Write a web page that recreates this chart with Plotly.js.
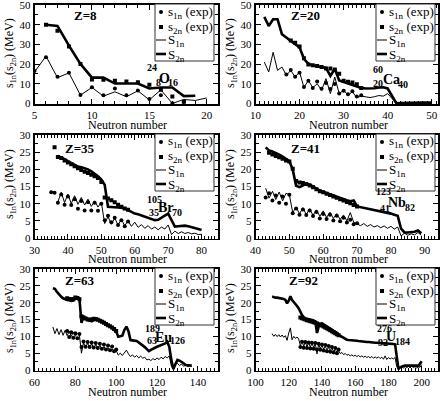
<!DOCTYPE html>
<html><head><meta charset="utf-8">
<script src="https://cdn.plot.ly/plotly-3.0.1.min.js"></script>
<style>html,body{margin:0;padding:0;background:#fff}#chart{width:440px;height:401px}</style>
</head><body><div id="chart"></div>
<script>
// ---------- DATA ----------
// Z=8 (O)
const oModelN1 = [5,6,7,8,9,10,11,12,13,14,15,16,17,18,19,20];
const oModelS1n = [16.0,24.0,13.1,15.5,4.2,8.1,3.7,5.9,3.4,6.4,1.8,6.9,0.0,2.0,1.5,2.8];
const oModelN2 = [6,7,8,9,10,11,12,13,14,15,16,17,18,19];
const oModelS2n = [40.0,39.4,29.4,20.1,13.1,13.1,10.1,10.1,10.1,7.6,8.1,8.1,3.7,3.9];
const oExpN1 = [5,6,7,8,9,10,11,12,13,14,15,16,17,18];
const oExpS1n = [16.5,23.5,13.5,15.6,4.3,8.2,4.1,7.6,4.1,6.6,2.3,4.2,0.1,0.8];
const oExpN2 = [6,7,8,9,10,11,12,13,14,15,16,17,18];
const oExpS2n = [40.0,36.9,29.0,20.0,12.2,12.0,11.5,11.2,10.7,9.5,6.9,3.5,0.9];

// Z=20 (Ca)
const caModelN = [12,13,14,15,16,17,18,19,20,21,22,23,24,25,26,27,28,29,30,31,32,33,34,35,36,37,38,39,40,41,42,43,44,45,46,47,48,49,50];
const caModelS1n = [21.0,16.0,26.0,16.8,18.5,14.3,16.8,13.4,16.0,8.1,11.7,8.0,10.0,6.7,12.6,5.0,13.4,5.0,6.7,4.2,5.9,2.9,3.7,3.4,3.0,3.4,4.0,3.7,5.0,2.5,0.0,0.2,0.3,0.3,0.3,0.3,0.3,0.3,0.3];
const caModelS2n = [44.0,39.4,42.8,42.8,35.2,33.6,31.9,30.5,28.5,22.7,20.1,19.3,18.8,18.5,18.1,14.0,17.6,11.7,10.9,10.0,9.2,8.7,7.9,7.6,7.6,7.7,8.1,8.2,7.6,3.4,0.0,0.2,0.3,0.3,0.4,0.4,0.4,0.4,0.4];
const caExpN1 = [17,18,19,20,21,22,23,24,25,26,27,28,29,30,31,32,33,34];
const caExpS1n = [14.7,17.0,13.5,15.6,8.4,11.5,7.9,11.1,7.4,10.4,7.3,9.9,5.1,6.4,4.6,6.2,3.5,4.1];
const caExpN2 = [18,19,20,21,22,23,24,25,26,27,28,29,30,31,32,33,34];
const caExpS2n = [32.0,30.8,28.9,23.0,19.8,19.4,19.0,18.5,17.8,17.7,17.2,15.1,11.5,11.0,10.6,9.7,7.9];

// Z=35 (Br)
const brModelN = [37,38,39,40,41,42,43,44,45,46,47,48,49,50,51,52,53,54,55,56,57,58,59,60,61,62,63,64,65,66,67,68,69,70,71,72,73,74,75,76,77,78,79,80];
const brModelS1n = [10.5,13.3,10.3,12.8,10.0,12.3,9.8,11.8,9.6,11.3,9.2,10.8,9.0,10.4,4.2,6.2,4.0,5.8,3.8,5.4,3.6,5.0,3.4,4.6,3.1,3.9,2.8,3.6,2.6,3.2,2.4,3.2,2.6,3.8,1.0,2.0,1.3,1.8,1.3,1.6,1.2,1.4,1.0,1.1];
const brModelS2n = [23.9,23.5,23.0,22.4,21.8,21.2,20.8,20.6,20.4,20.0,19.4,18.8,18.0,17.0,15.5,9.1,9.1,9.0,8.9,8.8,8.6,8.1,7.6,7.1,6.9,6.6,6.3,5.9,5.5,5.2,5.3,5.8,6.5,7.1,5.0,3.3,3.4,3.6,3.6,3.4,3.2,2.9,2.6,2.3];
const brExpN1 = [35,36,37,38,39,40,41,42,43,44,45,46,47,48,49,50,51,52,53,54,55,56,57,58];
const brExpS1n = [13.3,13.2,10.3,12.7,9.7,12.1,9.6,11.3,8.5,10.8,8.0,10.4,8.0,10.3,7.9,10.0,5.2,6.5,4.6,5.9,3.8,5.2,3.4,4.8];
const brExpN2 = [36,37,38,39,40,41,42,43,44,45,46,47,48,49,50,51,52,53,54,55,56,57,58];
const brExpS2n = [26.4,23.6,23.3,22.6,22.0,21.5,20.9,20.3,19.8,19.3,18.9,18.4,18.0,17.5,16.3,11.8,11.5,11.0,10.4,9.7,9.1,8.6,8.2];

// Z=41 (Nb)
const nbModelN = [43,44,45,46,47,48,49,50,51,52,53,54,55,56,57,58,59,60,61,62,63,64,65,66,67,68,69,70,71,72,73,74,75,76,77,78,79,80,81,82,83,84,85,86,87,88,89];
const nbModelS1n = [14.5,11.6,13.6,11.2,13.4,10.8,13.0,12.6,7.4,9.0,7.0,8.8,6.8,8.5,6.6,8.2,6.3,7.9,6.0,7.5,5.7,7.1,5.4,6.7,5.0,7.4,4.6,4.2,3.6,4.2,3.4,3.9,3.2,3.6,3.0,3.5,2.8,3.4,2.6,3.2,0.6,1.4,0.8,1.2,0.9,1.6,0.8];
const nbModelS2n = [26.4,25.5,25.2,24.8,24.3,23.7,23.0,22.4,19.9,15.2,14.8,15.3,15.8,15.6,15.0,14.3,13.8,13.5,13.2,12.8,12.4,12.0,11.6,11.3,11.0,10.7,10.9,9.2,9.0,8.9,8.6,8.3,8.2,8.1,7.9,7.6,7.3,7.1,6.8,6.5,2.7,1.6,1.6,1.6,1.8,2.2,1.4];
const nbExpN1 = [43,44,45,46,47,48,49,50,51,52,53,54,55,56,57,58,59,60,61,62,63,64,65,66,67,68,69,70];
const nbExpS1n = [11.8,13.0,10.9,12.4,10.3,12.1,10.0,12.6,7.2,8.6,6.8,8.3,6.7,8.0,6.4,7.6,5.7,7.0,5.5,6.8,5.1,6.5,4.9,5.9,4.5,5.3,4.0,4.3];
const nbExpN2 = [44,45,46,47,48,49,50,51,52,53,54,55,56,57,58,59,60,61,62,63,64,65,66,67,68,69,70];
const nbExpS2n = [24.8,24.3,23.9,23.5,23.1,22.6,22.3,20.2,16.6,16.2,16.0,15.7,15.3,14.8,14.2,13.6,13.3,12.9,12.5,12.1,11.7,11.3,10.9,10.5,10.1,9.6,9.2];

// Z=63 (Eu)
const euModelN = [69,70,71,72,73,74,75,76,77,78,79,80,81,82,83,84,85,86,87,88,89,90,91,92,93,94,95,96,97,98,99,100,101,102,103,104,105,106,107,108,109,110,111,112,113,114,115,116,117,118,119,120,121,122,123,124,125,126,127,128,129,130,131,132,133,134,135,136,137];
const euModelS1n = [12.8,10.8,12.3,10.5,12.0,10.3,11.8,10.2,11.5,10.0,11.2,10.0,11.0,10.3,5.0,8.2,6.6,8.0,6.5,7.8,6.4,7.6,6.3,7.3,6.1,7.0,5.9,6.7,5.6,6.3,5.3,5.8,4.4,5.0,4.3,5.2,5.9,4.8,4.0,4.5,3.8,4.3,3.6,4.1,3.5,3.8,3.0,3.2,2.8,3.4,3.0,3.6,3.1,3.8,3.3,4.0,3.6,4.2,1.2,0.2,1.6,2.0,1.3,1.8,1.1,1.5,1.0,1.3,1.0];
const euModelS2n = [24.3,24.1,23.2,22.3,21.8,21.3,21.0,20.8,20.7,20.5,20.6,21.3,21.5,21.2,14.0,15.8,15.5,15.1,14.8,14.5,14.8,15.3,15.1,14.9,14.6,14.2,13.8,13.4,12.9,12.4,11.9,11.4,9.9,10.0,10.2,11.9,12.9,11.5,8.9,8.8,8.7,8.6,8.2,7.8,7.4,6.8,6.2,5.6,6.0,6.4,6.6,6.9,7.1,7.4,7.6,7.9,8.4,6.9,3.0,0.3,1.8,3.0,2.8,2.5,2.0,1.5,1.4,1.3,1.3];
const euExpN1 = [76,77,78,79,80,81,82,83,84,85,86,87,88,89,90,91,92,93,94,95,96,97,98,99,100];
const euExpS1n = [11.6,9.8,11.2,9.6,10.9,9.4,10.7,6.8,8.5,6.9,8.3,6.8,8.2,6.7,8.0,6.5,7.8,6.3,7.6,6.1,7.3,5.9,7.0,5.6,6.1];
const euExpN2 = [76,77,78,79,80,81,82,83,84,85,86,87,88,89,90,91,92,93,94,95,96,97,98,99,100];
const euExpS2n = [21.3,21.1,21.0,21.0,21.5,21.4,21.0,16.0,15.6,15.3,15.0,14.9,15.0,15.2,15.1,14.9,14.6,14.3,14.0,13.7,13.3,13.0,12.6,12.2,11.6];

// Z=92 (U)
const uModelN = [110,111,112,113,114,115,116,117,118,119,120,121,122,123,124,125,126,127,128,129,130,131,132,133,134,135,136,137,138,139,140,141,142,143,144,145,146,147,148,149,150,151,152,153,154,155,156,157,158,159,160,161,162,163,164,165,166,167,168,169,170,171,172,173,174,175,176,177,178,179,180,181,182,183,184,185,186,187,188,189,190,191,192,193,194,195,196,197,198,199,200];
const uModelS1n = [10.8,10.0,10.6,9.9,10.5,9.8,10.4,9.7,10.2,8.8,
  11.0,12.5,9.0,10.0,9.4,9.8,9.2,7.2,8.6,7.0,
  8.4,6.9,8.2,6.8,8.0,6.7,7.8,4.8,7.6,6.4,
  7.3,6.2,7.0,6.0,6.7,5.8,6.4,5.5,6.1,5.3,
  5.7,4.9,5.2,4.6,4.9,4.4,4.6,4.2,4.5,4.1,
  4.4,4.0,4.3,3.9,4.2,3.8,4.1,3.7,4.0,3.6,
  4.0,3.5,3.9,3.5,3.9,3.4,3.8,3.2,4.2,3.1,
  3.7,3.3,3.6,3.3,3.7,1.0,0.2,0.6,1.0,0.5,
  1.1,0.6,1.1,0.6,1.1,0.7,1.0,0.6,1.0,0.8,1.6];
const uModelS2n = [21.8,21.6,21.5,21.5,21.4,21.4,21.3,21.1,20.8,19.8,
  20.6,21.9,20.8,20.3,19.8,19.0,18.3,17.2,16.3,15.7,
  15.3,15.2,15.1,15.0,14.9,14.7,14.4,11.0,12.8,13.6,
  13.9,13.6,13.3,13.0,12.7,12.4,12.1,11.8,11.4,11.0,
  10.4,10.1,9.8,9.5,9.2,9.0,8.9,8.9,8.8,8.8,
  8.7,8.7,8.6,8.5,8.5,8.4,8.4,8.3,8.3,8.2,
  8.2,8.2,8.1,8.1,8.0,8.0,8.0,7.9,7.9,7.9,
  7.8,7.8,7.7,7.7,7.6,3.5,0.3,0.8,1.1,1.2,
  1.3,1.3,1.4,1.4,1.5,1.5,1.4,1.3,1.2,1.8,2.6];
const uExpN1 = [127,128,129,130,131,132,133,134,135,136,137,138,139,140,141,142,143,144,145,146,147,148,149,150];
const uExpS1n = [6.8,8.4,6.6,8.3,6.5,8.2,6.4,8.1,6.3,8.0,6.1,7.8,6.0,7.6,5.8,7.4,5.6,7.1,5.4,6.8,5.2,6.5,5.0,6.1];
const uExpN2 = [127,128,129,130,131,132,133,134,135,136,137,138,139,140,141,142,143,144,145,146,147,148,149,150];
const uExpS2n = [15.6,15.4,15.2,15.0,14.8,14.7,14.5,14.4,14.2,14.0,13.8,13.6,13.4,13.2,12.9,12.6,12.4,12.1,11.8,11.5,11.2,10.9,10.6,10.3];

// Labels
const zLabels = ['Z=8','Z=20','Z=35','Z=41','Z=63','Z=92'];
const nuclideMass = ['24','60','105','123','189','276'];
const nuclideZ = ['8','20','35','41','63','92'];
const nuclideSym = ['O','Ca','Br','Nb','Eu','U'];
const nuclideN = ['16','40','70','82','126','184'];
const legendTexts = ['s<sub>1n</sub> (exp)','s<sub>2n</sub> (exp)','S<sub>1n</sub>','S<sub>2n</sub>'];
const xTitle = 'Neutron number';
const yTitle = 's<sub>1n</sub>(s<sub>2n</sub>) (MeV)';

const panelData = [
  {m1x:oModelN1, m1y:oModelS1n, m2x:oModelN2, m2y:oModelS2n, e1x:oExpN1, e1y:oExpS1n, e2x:oExpN2, e2y:oExpS2n},
  {m1x:caModelN, m1y:caModelS1n, m2x:caModelN, m2y:caModelS2n, e1x:caExpN1, e1y:caExpS1n, e2x:caExpN2, e2y:caExpS2n},
  {m1x:brModelN, m1y:brModelS1n, m2x:brModelN, m2y:brModelS2n, e1x:brExpN1, e1y:brExpS1n, e2x:brExpN2, e2y:brExpS2n},
  {m1x:nbModelN, m1y:nbModelS1n, m2x:nbModelN, m2y:nbModelS2n, e1x:nbExpN1, e1y:nbExpS1n, e2x:nbExpN2, e2y:nbExpS2n},
  {m1x:euModelN, m1y:euModelS1n, m2x:euModelN, m2y:euModelS2n, e1x:euExpN1, e1y:euExpS1n, e2x:euExpN2, e2y:euExpS2n},
  {m1x:uModelN, m1y:uModelS1n, m2x:uModelN, m2y:uModelS2n, e1x:uExpN1, e1y:uExpS1n, e2x:uExpN2, e2y:uExpS2n}
];

// ---------- LAYOUT / STYLE ----------
const W = 440, H = 401;
const FONT = 'Liberation Serif, Times New Roman, serif';
const PX = v => v / W;
const PY = v => 1 - v / H;
const colDom = [[34.5/W, 218.3/W], [255.5/W, 438.3/W]];
const rowDom = [[1-104/H, 1-4.5/H], [1-238.5/H, 1-134.5/H], [1-370.5/H, 1-268.5/H]];
const axCfg = [
  {xr:[5,21],   xd:5,  xm:1, yr:[-0.3,50.3], yd:10, ym:5},
  {xr:[10,51.5],xd:10, xm:1, yr:[-0.3,50.3], yd:10, ym:5},
  {xr:[30,85],  xd:10, xm:1, yr:[-0.15,30.15], yd:5,  ym:2.5},
  {xr:[40,94],  xd:10, xm:1, yr:[-0.15,30.15], yd:5,  ym:2.5},
  {xr:[60,150], xd:20, xm:2, yr:[-0.15,30.15], yd:5,  ym:2.5},
  {xr:[100,210],xd:20, xm:2, yr:[-0.15,30.15], yd:5,  ym:2.5}
];
// pixel anchors for text items per panel
const zPos = [[85,15],[305,15],[80,148],[305,148],[80,280],[303,280]];
const nucPos = [
  {a:[152,67], z:[158,82], s:[164,78], n:[173,82]},
  {a:[378,69], z:[378,83], s:[391,79], n:[403,84]},
  {a:[154,199], z:[154,212], s:[166,207], n:[177,212]},
  {a:[383,192], z:[385,208], s:[397,202], n:[410,207]},
  {a:[152,328], z:[152,340], s:[163,337], n:[177,340]},
  {a:[384,328], z:[383,342], s:[391,336], n:[402,341]}
];
const legPos = [[155,4],[376,4],[155,134],[376,134],[155,268],[376,268]];
const xTitlePos = [127, 348];
const xTitleY = [125, 259, 392];
const yTitleX = [10, 231];
const yTitleY = [53, 184, 318];

const traces = [];
const layout = {
  width: W, height: H,
  margin: {l:0, r:0, t:0, b:0},
  paper_bgcolor: '#fff', plot_bgcolor: '#fff',
  showlegend: false,
  font: {family: FONT, color: '#000'},
  shapes: [], annotations: []
};

panelData.forEach((d, i) => {
  const k = i === 0 ? '' : String(i + 1);
  const col = i % 2, row = Math.floor(i / 2);
  const c = axCfg[i];
  const common = {
    showline: true, linewidth: 1.8, linecolor: '#000', mirror: 'allticks',
    ticks: 'inside', ticklen: 5, tickwidth: 1, tickcolor: '#000',
    showgrid: false, zeroline: false, ticklabeloverflow: 'allow',
    tickfont: {family: FONT, size: 11, color: '#000'}
  };
  layout['xaxis' + k] = Object.assign({}, common, {
    domain: colDom[col], range: c.xr, dtick: c.xd, tick0: 0, anchor: 'y' + k,
    minor: {ticks: 'inside', ticklen: 3, tickwidth: 1, dtick: c.xm, tick0: 0, tickcolor: '#000', showgrid: false}
  });
  layout['yaxis' + k] = Object.assign({}, common, {
    domain: rowDom[row], range: c.yr, dtick: c.yd, tick0: 0, anchor: 'x' + k,
    minor: {ticks: 'inside', ticklen: 3, tickwidth: 1, dtick: c.ym, tick0: 0, tickcolor: '#000', showgrid: false}
  });
  const ax = {xaxis: 'x' + k, yaxis: 'y' + k, hoverinfo: 'skip', cliponaxis: true};
  traces.push(Object.assign({x: d.m1x, y: d.m1y, type: 'scatter', mode: 'lines', name: 'S1n',
    line: {color: '#000', width: 1}}, ax));
  traces.push(Object.assign({x: d.m2x, y: d.m2y, type: 'scatter', mode: 'lines', name: 'S2n',
    line: {color: '#000', width: 2.6}}, ax));
  traces.push(Object.assign({x: d.e1x, y: d.e1y, type: 'scatter', mode: 'markers', name: 's1n (exp)',
    marker: {symbol: 'circle', size: 4, color: '#000'}}, ax));
  traces.push(Object.assign({x: d.e2x, y: d.e2y, type: 'scatter', mode: 'markers', name: 's2n (exp)',
    marker: {symbol: 'square', size: 4, color: '#000'}}, ax));

  // Z label
  layout.annotations.push({xref:'paper', yref:'paper', x: PX(zPos[i][0]), y: PY(zPos[i][1]),
    text: '<b>' + zLabels[i] + '</b>', showarrow: false, xanchor: 'center', yanchor: 'middle',
    font: {family: FONT, size: 13, color: '#000'}});
  // nuclide label
  const np = nucPos[i];
  [[nuclideMass[i], np.a, 10], [nuclideZ[i], np.z, 10], [nuclideSym[i], np.s, 14], [nuclideN[i], np.n, 10]].forEach(t => {
    layout.annotations.push({xref:'paper', yref:'paper', x: PX(t[1][0]), y: PY(t[1][1]),
      text: '<b>' + t[0] + '</b>', showarrow: false, xanchor: 'center', yanchor: 'middle',
      font: {family: FONT, size: t[2], color: '#000'}});
  });
  // legend box (manual)
  const L = legPos[i][0], T = legPos[i][1];
  layout.shapes.push({type:'rect', xref:'paper', yref:'paper', x0: PX(L), x1: PX(L+59), y0: PY(T), y1: PY(T+57),
    fillcolor: '#fff', line: {color: '#333', width: 1}});
  layout.shapes.push({type:'circle', xref:'paper', yref:'paper', x0: PX(L+4), x1: PX(L+8), y0: PY(T+6), y1: PY(T+10),
    fillcolor: '#000', line: {color: '#000', width: 0}});
  layout.shapes.push({type:'rect', xref:'paper', yref:'paper', x0: PX(L+4), x1: PX(L+8), y0: PY(T+21), y1: PY(T+25),
    fillcolor: '#000', line: {color: '#000', width: 0}});
  layout.shapes.push({type:'line', xref:'paper', yref:'paper', x0: PX(L+1), x1: PX(L+11), y0: PY(T+36), y1: PY(T+36),
    line: {color: '#000', width: 1}});
  layout.shapes.push({type:'line', xref:'paper', yref:'paper', x0: PX(L+1), x1: PX(L+11), y0: PY(T+50), y1: PY(T+50),
    line: {color: '#000', width: 2.6}});
  const ly = [8, 23, 36.5, 51];
  legendTexts.forEach((t, j) => {
    layout.annotations.push({xref:'paper', yref:'paper', x: PX(L+11), y: PY(T+ly[j]),
      text: t, showarrow: false, xanchor: 'left', yanchor: 'middle',
      font: {family: FONT, size: 13, color: '#000'}});
  });
  // axis titles
  layout.annotations.push({xref:'paper', yref:'paper', x: PX(xTitlePos[col]), y: PY(xTitleY[row]),
    text: xTitle, showarrow: false, xanchor: 'center', yanchor: 'middle',
    font: {family: FONT, size: 12, color: '#000'}});
  layout.annotations.push({xref:'paper', yref:'paper', x: PX(yTitleX[col]), y: PY(yTitleY[row]),
    text: yTitle, showarrow: false, xanchor: 'center', yanchor: 'middle', textangle: -90,
    font: {family: FONT, size: 12, color: '#000'}});
});

Plotly.newPlot('chart', traces, layout, {staticPlot: true, displayModeBar: false});
</script></body></html>
